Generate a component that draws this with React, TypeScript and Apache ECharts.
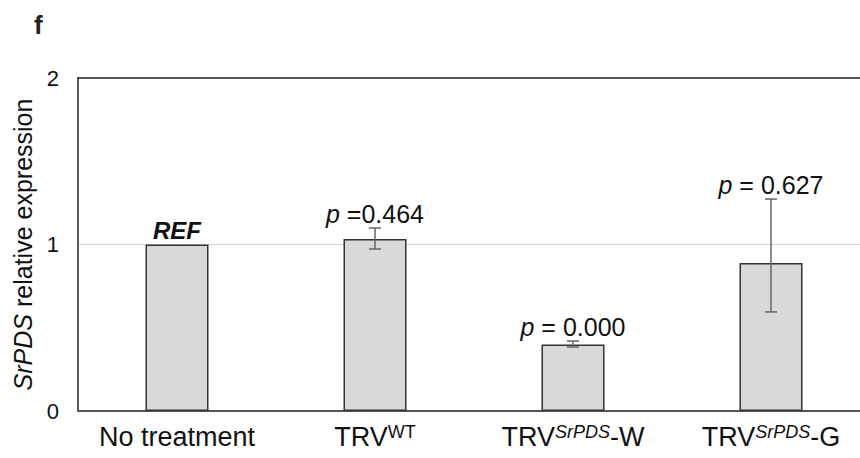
import React, { useEffect, useRef } from "react";
import * as echarts from "echarts";

// ---- data ----
const categories = ["No treatment", "TRV WT", "TRV SrPDS-W", "TRV SrPDS-G"];
const catBase = ["No treatment", "TRV", "TRV", "TRV"];
const catSup = ["", "WT", "SrPDS", "SrPDS"];
const catSuffix = ["", "", "-W", "-G"];
const values = [1.0, 1.033, 0.4, 0.889];
const errUpper = [1.0, 1.099, 0.42, 1.273];
const errLower = [1.0, 0.973, 0.384, 0.595];
const pLabels = ["{ref|REF}", "{i|p} =0.464", "{i|p} = 0.000", "{i|p} = 0.627"];
const yTicks = [0, 1, 2];
const panelLetter = "f";

const FONT = "'Liberation Sans', Arial, Helvetica, sans-serif";

export default function App() {
  const ref = useRef<HTMLDivElement>(null);
  useEffect(() => {
    if (!ref.current) return;
    const chart = echarts.init(ref.current, null, { renderer: "svg" });
    const yMax = yTicks[yTicks.length - 1];
    const option: any = {
      animation: false,
      backgroundColor: "#ffffff",
      textStyle: { fontFamily: FONT },
      grid: { left: 78, top: 78, bottom: 47, right: -10, containLabel: false, outerBoundsMode: "none" },
      graphic: [
        {
          type: "text",
          left: 34,
          top: 12,
          style: { text: panelLetter, fontSize: 26, fontWeight: "bold", fill: "#222", fontFamily: FONT },
        },
      ],
      xAxis: [
        {
          type: "category",
          data: categories,
          axisLine: { show: true, lineStyle: { color: "#555", width: 2 } },
          axisTick: { show: false },
          axisLabel: {
            margin: 12,
            color: "#111",
            fontSize: 27,
            fontFamily: FONT,
            interval: 0,
            formatter: (_v: string, i: number) =>
              catSup[i]
                ? `${catBase[i]}{${catSup[i] === "WT" ? "sup" : "supi"}|${catSup[i]}}${catSuffix[i]}`
                : catBase[i],
            rich: {
              sup: { fontSize: 18, verticalAlign: "top", lineHeight: 20, color: "#111", fontFamily: FONT },
              supi: { fontSize: 18, fontStyle: "italic", verticalAlign: "top", lineHeight: 20, color: "#111", fontFamily: FONT },
            },
          },
        },
        {
          type: "category",
          position: "top",
          data: categories,
          axisLine: { show: true, lineStyle: { color: "#222", width: 1.5 } },
          axisTick: { show: false },
          axisLabel: { show: false },
        },
      ],
      yAxis: {
        type: "value",
        min: 0,
        max: yMax,
        interval: 1,
        name: "{i|SrPDS} relative expression",
        nameLocation: "middle",
        nameGap: 43,
        nameTextStyle: {
          fontSize: 25,
          color: "#111",
          fontFamily: FONT,
          rich: { i: { fontSize: 25, fontStyle: "italic", color: "#111", fontFamily: FONT } },
        },
        axisLine: { show: true, lineStyle: { color: "#222", width: 1.5 } },
        axisTick: { show: false },
        axisLabel: { margin: 19, fontSize: 22, color: "#111", fontFamily: FONT },
        splitLine: {
          show: true,
          lineStyle: { color: ["rgba(0,0,0,0)", "#d9d9d9", "rgba(0,0,0,0)"], width: 1 },
        },
      },
      series: [
        {
          type: "bar",
          data: values,
          barWidth: 63,
          itemStyle: { color: "#d9d9d9", borderColor: "#333", borderWidth: 1.5 },
          z: 2,
        },
        {
          type: "custom",
          z: 3,
          data: values.map((v, i) => [i, v, errUpper[i], errLower[i]]),
          encode: { x: 0, y: [2, 3] },
          renderItem: (params: any, api: any) => {
            const i = params.dataIndex;
            const x = api.value(0);
            const up = api.value(2);
            const lo = api.value(3);
            const top = api.coord([x, up]);
            const bot = api.coord([x, lo]);
            const cx = top[0];
            const half = 6;
            const ls = { stroke: "#666", lineWidth: 1.5 };
            const children: any[] = [];
            if (up !== lo) {
              children.push(
                { type: "line", shape: { x1: cx, y1: top[1], x2: cx, y2: bot[1] }, style: ls },
                { type: "line", shape: { x1: cx - half, y1: top[1], x2: cx + half, y2: top[1] }, style: ls },
                { type: "line", shape: { x1: cx - half, y1: bot[1], x2: cx + half, y2: bot[1] }, style: ls }
              );
            }
            children.push({
              type: "text",
              x: cx,
              y: top[1] - 2,
              style: {
                text: pLabels[i],
                align: "center",
                verticalAlign: "bottom",
                fontSize: 25,
                fontFamily: FONT,
                fill: "#111",
                rich: {
                  i: { fontSize: 25, fontStyle: "italic", fontFamily: FONT, fill: "#111" },
                  ref: { fontSize: 24, fontStyle: "italic", fontWeight: "bold", fontFamily: FONT, fill: "#111" },
                },
              },
            });
            return { type: "group", children };
          },
        },
      ],
    };
    chart.setOption(option);
    return () => chart.dispose();
  }, []);
  return (
    <div
      ref={ref}
      style={{ position: "fixed", left: 0, top: 0, width: 860, height: 458, background: "#fff" }}
    />
  );
}
